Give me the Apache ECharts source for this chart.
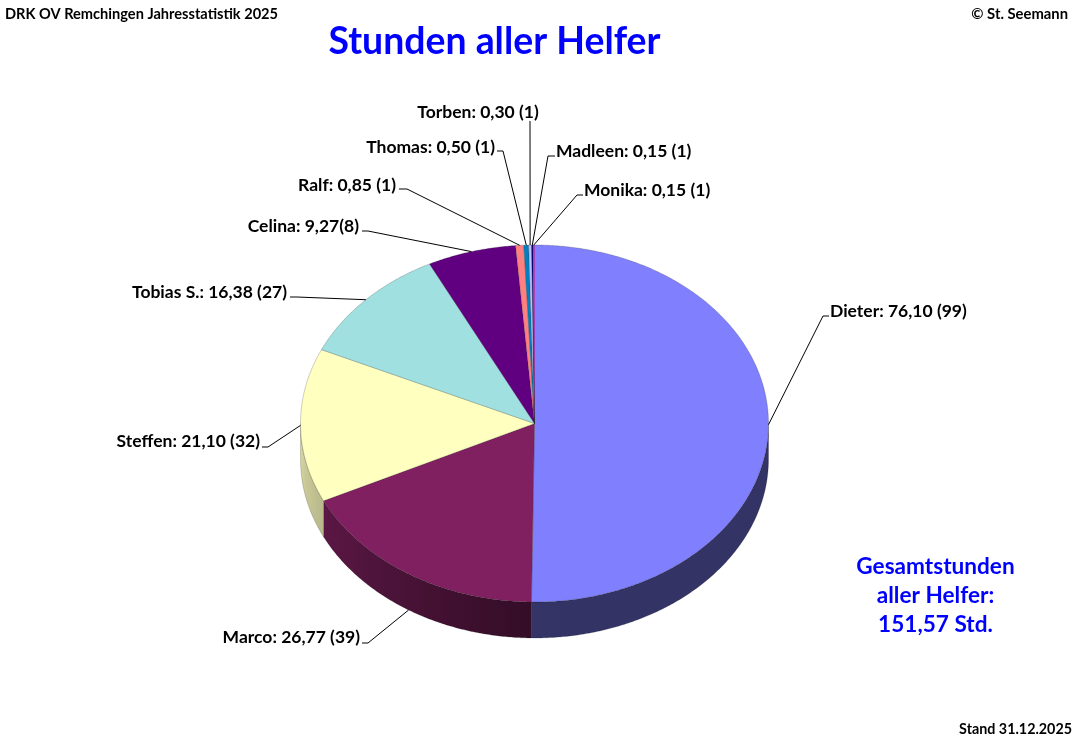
<!DOCTYPE html>
<html><head><meta charset="utf-8">
<script src="https://cdn.jsdelivr.net/npm/echarts@6/dist/echarts.min.js"></script>
<style>html,body{margin:0;padding:0;background:#fff}#c{width:1074px;height:744px}</style>
</head><body><div id="c"></div>
<script>
// ---- data ----
const names  = ['Dieter','Marco','Steffen','Tobias S.','Celina','Ralf','Thomas','Torben','Madleen','Monika'];
const hours  = [76.10, 26.77, 21.10, 16.38, 9.27, 0.85, 0.50, 0.30, 0.15, 0.15];
const counts = [99, 39, 32, 27, 8, 1, 1, 1, 1, 1];

// ---- styles / layout ----
const colors = ['#8080FF','#802060','#FFFFC0','#A0E0E0','#600080','#FF8080','#0080C0','#C0C0FF','#000080','#FF00FF'];
const PIE = {cx:534.5, cy:423.5, rx:234, ry:178.5, depth:36};
const FONT = 'Lato, "Open Sans", sans-serif';
const LABEL_SIZE = 17.5;
const LAB = [
  {x:830, y:311, align:'left',   elbow:[823,316], tick:[829,316], gap:' '},
  {x:360, y:637, align:'right',  elbow:[368,643], tick:[362,643], gap:' ', bottom:true},
  {x:260, y:441, align:'right',  elbow:[268,447], tick:[262,447], gap:' '},
  {x:287, y:292, align:'right',  elbow:[297,297], tick:[290,297], gap:' '},
  {x:359, y:226, align:'right',  elbow:[368,231], tick:[362,231], gap:''},
  {x:396, y:185, align:'right',  elbow:[407,189], tick:[399,189], gap:' '},
  {x:495, y:147, align:'right',  elbow:[503,151], tick:[497,151], gap:' '},
  {x:478, y:112, align:'center', elbow:[530,121], tick:[530,121], gap:' '},
  {x:556, y:151, align:'left',   elbow:[548,156], tick:[555,156], gap:' '},
  {x:584, y:190, align:'left',   elbow:[577,195], tick:[583,195], gap:' '}
];

const total = hours.reduce((a,b)=>a+b,0);
const cum = []; hours.reduce((a,b,i)=>{cum[i]=a; return a+b;},0);
const fmt = v => v.toFixed(2).replace('.',',');

function pt(deg, dy){
  const r = deg*Math.PI/180;
  return [PIE.cx + PIE.rx*Math.sin(r), PIE.cy - PIE.ry*Math.cos(r) + (dy||0)];
}
function shade(hex, f){
  const n = parseInt(hex.slice(1),16);
  const r = Math.round(((n>>16)&255)*f), g = Math.round(((n>>8)&255)*f), b = Math.round((n&255)*f);
  return 'rgb('+r+','+g+','+b+')';
}
function shadeF(deg){ return deg <= 180 ? 0.4 : 0.4 + 0.45*(deg-180)/90; }
function arc(a, b, dy){
  const pts = []; const n = Math.max(2, Math.ceil((b-a)/0.5));
  for (let k=0;k<=n;k++) pts.push(pt(a+(b-a)*k/n, dy));
  return pts;
}

function renderItem(params, api){
  const i = params.dataIndex;
  const v = api.value(0), cnt = api.value(1);
  const s = cum[i]/total*360, e = (cum[i]+v)/total*360;
  const children = [];
  // side wall (front half only)
  const a = Math.max(s, 90), b = Math.min(e, 270);
  if (a < b){
    const top = arc(a, b, 0), bot = arc(a, b, PIE.depth).reverse();
    const xr = pt(a)[0], xl = pt(b)[0];
    const stops = [];
    const n = 12;
    for (let k=n;k>=0;k--){
      const d = a + (b-a)*k/n;
      const x = pt(d)[0];
      stops.push({offset: Math.min(1,Math.max(0,(x-xl)/((xr-xl)||1))), color: shade(colors[i], shadeF(d))});
    }
    stops.sort((p,q)=>p.offset-q.offset);
    children.push({type:'polygon', shape:{points: top.concat(bot)},
      style:{fill:{type:'linear', x:xl, y:0, x2:xr, y2:0, global:true, colorStops:stops},
             stroke:'rgba(0,0,0,0.35)', lineWidth:0.5}});
  }
  // top face
  children.push({type:'polygon', shape:{points: [[PIE.cx,PIE.cy]].concat(arc(s, e, 0))},
    style:{fill:colors[i], stroke:'rgba(40,40,40,0.45)', lineWidth:0.5}});
  // leader line + label
  const L = LAB[i];
  const mid = (s+e)/2;
  const anc = pt(mid, L.bottom ? PIE.depth : 0);
  children.push({type:'polyline', shape:{points:[anc, L.elbow, L.tick]},
    style:{stroke:'#000', lineWidth:1, fill:null}, z2:10});
  children.push({type:'text', z2:11, style:{
    text: names[i] + ': ' + fmt(v) + L.gap + '(' + cnt + ')',
    x:L.x, y:L.y, fill:'#000', font:'bold ' + LABEL_SIZE + 'px ' + FONT,
    align:L.align, textAlign:L.align, verticalAlign:'middle', textVerticalAlign:'middle'}});
  return {type:'group', children};
}

const chart = echarts.init(document.getElementById('c'), null, {renderer:'canvas'});
function txt(text, x, y, size, color, align, extra){
  return {type:'text', style:Object.assign({text, x, y, fill:color,
    font:'bold '+size+'px '+FONT, align, textAlign:align, verticalAlign:'middle', textVerticalAlign:'middle'}, extra||{})};
}
chart.setOption({
  animation:false,
  backgroundColor:'#fff',
  graphic:[
    txt('DRK OV Remchingen Jahresstatistik 2025', 5, 14, 14.6, '#000', 'left'),
    txt('\u00A9 St. Seemann', 1068, 14, 14.8, '#000', 'right'),
    txt('Stunden aller Helfer', 494.5, 42, 37.4, '#0000FF', 'center'),
    txt('Gesamtstunden\naller Helfer:\n' + fmt(total) + ' Std.', 935.5, 596, 22.6, '#0000FF', 'center', {lineHeight:29}),
    txt('Stand 31.12.2025', 1072, 729, 14.3, '#000', 'right')
  ],
  series:[{
    type:'custom',
    coordinateSystem:'none',
    renderItem: renderItem,
    data: hours.map((h,i)=>({name:names[i], value:[h, counts[i]]}))
  }]
});
</script></body></html>
